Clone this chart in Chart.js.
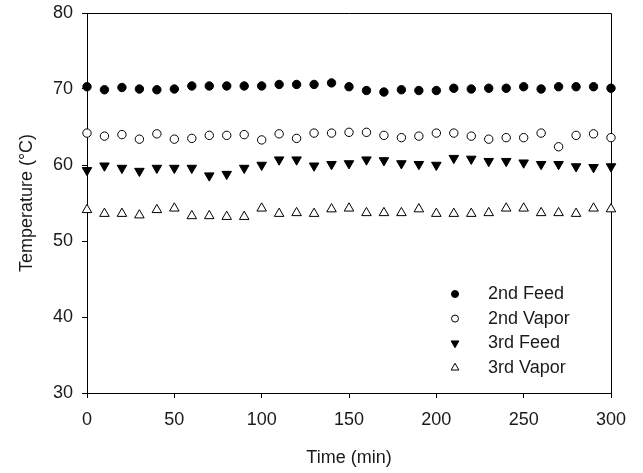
<!DOCTYPE html>
<html>
<head>
<meta charset="utf-8">
<script src="https://cdn.jsdelivr.net/npm/chart.js@4.4.0/dist/chart.umd.min.js"></script>
<style>
html,body{margin:0;padding:0;background:#fff}
</style>
</head>
<body>
<canvas id="chart" width="643" height="473"></canvas>
<script>
// time in minutes
var times=[0,10,20,30,40,50,60,70,80,90,100,110,120,130,140,150,160,170,180,190,200,210,220,230,240,250,260,270,280,290,300];
var feed2=[70.3,69.9,70.2,70.0,69.9,70.0,70.4,70.4,70.4,70.4,70.4,70.6,70.6,70.6,70.8,70.3,69.8,69.6,69.9,69.8,69.8,70.1,70.0,70.1,70.1,70.3,70.0,70.3,70.3,70.3,70.1];
var vapor2=[64.2,63.8,64.0,63.4,64.1,63.4,63.5,63.9,63.9,64.0,63.3,64.1,63.5,64.2,64.2,64.3,64.3,63.9,63.6,63.8,64.2,64.2,63.8,63.4,63.6,63.6,64.2,62.4,63.9,64.1,63.6];
var feed3=[59.3,59.9,59.6,59.2,59.6,59.6,59.6,58.6,58.8,59.6,60.0,60.7,60.7,59.9,60.1,60.2,60.7,60.6,60.2,60.1,60.0,60.9,60.8,60.5,60.5,60.3,60.1,60.1,59.8,59.7,59.8];
var vapor3=[54.1,53.6,53.6,53.4,54.1,54.3,53.3,53.3,53.2,53.2,54.3,53.6,53.7,53.6,54.2,54.3,53.7,53.7,53.7,54.2,53.6,53.6,53.6,53.7,54.3,54.3,53.7,53.7,53.6,54.3,54.2];
var seriesNames=["2nd Feed","2nd Vapor","3rd Feed","3rd Vapor"];

function pts(vals){
    var out=[];
    for(var i=0;i<times.length;i++){ out.push({x:times[i],y:vals[i]}); }
    return out;
}

var txt='#1a1a1a';
var fnt={family:'Arial, "Liberation Sans", sans-serif',size:18};

// frame on top and right
var boxPlugin={
    id:'box',
    beforeDatasetsDraw:function(chart){
        var a=chart.chartArea, ctx=chart.ctx;
        ctx.save();
        ctx.strokeStyle='#000';
        ctx.lineWidth=1;
        ctx.beginPath();
        ctx.moveTo(a.left,a.top+0.5);
        ctx.lineTo(a.right+0.5,a.top+0.5);
        ctx.lineTo(a.right+0.5,a.bottom);
        ctx.stroke();
        ctx.restore();
    }
};

// legend drawn inside the plot
var legendPlugin={
    id:'insideLegend',
    afterDraw:function(chart){
        var ctx=chart.ctx;
        ctx.save();
        chart.data.datasets.forEach(function(ds,i){
            var y=294+i*24.6;
            ctx.fillStyle=ds.backgroundColor;
            ctx.strokeStyle='#000';
            ctx.lineWidth=1;
            Chart.helpers.drawPoint(ctx,{pointStyle:ds.pointStyle,rotation:ds.rotation||0,radius:ds.pointStyle=='triangle'?4.5:3.5,borderWidth:1},455,y);
            ctx.fillStyle=txt;
            ctx.font='18px Arial, "Liberation Sans", sans-serif';
            ctx.textBaseline='middle';
            ctx.textAlign='left';
            ctx.fillText(ds.label,488,y);
        });
        ctx.restore();
    }
};

var mychart=document.getElementById("chart").getContext('2d');
var chart=new Chart(mychart,{
    type:'scatter',
    data:{
        datasets:[
            {label:seriesNames[0],data:pts(feed2),pointStyle:'circle',pointRadius:4.2,backgroundColor:'#000',borderColor:'#000',borderWidth:1,clip:false},
            {label:seriesNames[1],data:pts(vapor2),pointStyle:'circle',pointRadius:4.2,backgroundColor:'#fff',borderColor:'#000',borderWidth:1,clip:false},
            {label:seriesNames[2],data:pts(feed3),pointStyle:'triangle',rotation:180,pointRadius:5.5,backgroundColor:'#000',borderColor:'#000',borderWidth:1,clip:false},
            {label:seriesNames[3],data:pts(vapor3),pointStyle:'triangle',pointRadius:5.5,backgroundColor:'#fff',borderColor:'#000',borderWidth:1,clip:false}
        ]
    },
    options:{
        responsive:false,
        animation:false,
        layout:{padding:{top:13,right:32,left:0,bottom:0}},
        plugins:{legend:{display:false},tooltip:{enabled:false}},
        scales:{
            x:{
                type:'linear',min:0,max:300,
                ticks:{stepSize:50,color:txt,font:fnt,padding:11,maxRotation:0},
                grid:{drawOnChartArea:false,tickLength:5,color:'#000'},
                border:{color:'#000',width:1},
                title:{display:true,text:'Time (min)',color:txt,font:fnt,padding:{top:8}},
                afterFit:function(s){s.height=80;s.paddingLeft=0;s.paddingRight=0;}
            },
            y:{
                min:30,max:80,
                ticks:{stepSize:10,color:txt,font:fnt,padding:9},
                grid:{drawOnChartArea:false,tickLength:5,color:'#000'},
                border:{color:'#000',width:1},
                title:{display:true,text:'Temperature (\u00B0C)',color:txt,font:fnt,padding:{top:16,bottom:0}},
                afterFit:function(s){s.width=87;s.paddingTop=0;s.paddingBottom=0;}
            }
        }
    },
    plugins:[boxPlugin,legendPlugin]
});
</script>
</body>
</html>
